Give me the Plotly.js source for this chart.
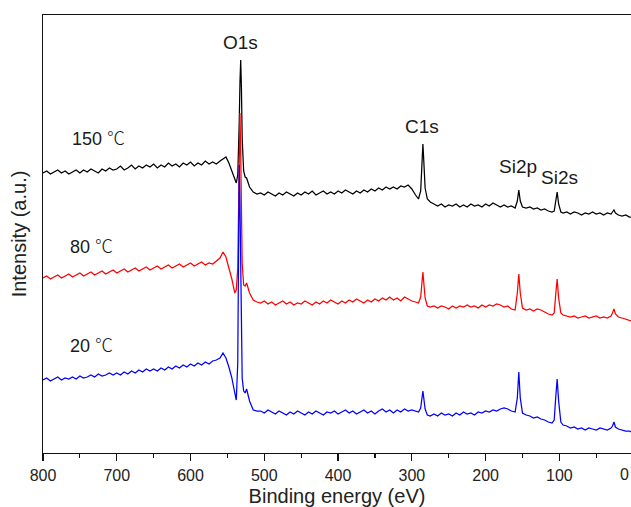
<!DOCTYPE html>
<html>
<head>
<meta charset="utf-8">
<script src="https://cdn.plot.ly/plotly-3.0.1.min.js"></script>
<style>html,body{margin:0;padding:0;background:#fff;}#chart{width:631px;height:507px;}</style>
</head>
<body>
<div id="chart"></div>
<script>
// Binding energy grid (eV)
var energy = [
800,795,790,785,780,775,770,765,760,755,750,745,740,735,730,725,720,715,710,705,
700,695,690,685,680,675,670,665,660,655,650,645,640,635,630,625,620,615,610,605,
600,595,590,585,580,575,570,565,
560,556,552,548,544,540,538,536,535,534,533,532,531,530,528,526,524,520,515,510,
505,500,495,490,485,480,475,470,465,460,455,450,445,440,435,430,425,420,415,410,
405,400,395,390,385,380,375,370,365,360,355,350,345,340,335,330,325,320,315,310,
305,300,
295,291,288,286,285,284,282,279,275,
270,265,260,255,250,245,240,235,230,225,220,215,210,205,200,195,190,185,180,175,
170,165,160,
157,155,153,150,
145,140,135,130,125,120,115,110,
107,105,103,101,98,95,
90,85,80,75,70,65,60,55,50,45,40,35,30,
28,26,24,20,15,10,5,3
];

// Intensity (a.u.), 150 C sample
var i150 = [
280,282,279,281,283,280,282,279,281,283,280,283,281,284,282,280,284,282,285,283,
284,287,283,285,288,284,287,285,288,286,289,285,288,286,290,287,289,286,290,288,
291,287,290,288,292,289,291,289,
292,294,296,290,282,274,270,278,300,330,370,393,365,315,282,276,275,266,261,259,
260,258,261,259,257,260,258,261,259,257,260,258,261,259,262,258,260,262,259,261,
259,262,260,263,261,259,262,260,263,261,264,262,265,263,266,264,266,264,267,266,
268,264,
258,254,262,295,309,295,265,254,251,
249,247,249,246,248,247,249,246,248,246,249,247,248,246,249,247,250,248,246,248,
246,247,245,
252,263,252,246,
245,246,244,245,243,244,242,241,
242,250,261,249,241,240,
241,239,241,240,238,240,239,241,239,240,238,240,239,
241,243,240,238,237,238,236,236
];

// Intensity (a.u.), 80 C sample
var i80 = [
175,177,174,176,178,175,177,179,176,178,180,177,179,181,178,180,182,179,181,183,
180,182,184,181,183,185,182,184,186,183,185,187,184,186,188,185,187,189,186,188,
190,187,189,191,188,190,189,192,
195,201,196,185,174,160,163,185,230,290,340,300,240,190,168,167,170,160,153,151,
150,152,149,151,148,150,152,149,151,148,150,149,152,150,148,151,149,152,150,153,
151,149,152,150,153,151,154,152,150,153,151,154,152,155,153,156,153,155,152,156,
154,152,
151,150,156,172,181,172,155,147,146,
147,145,147,146,144,147,145,147,146,148,146,147,145,148,146,148,147,149,148,146,
147,144,143,
160,179,160,145,
143,144,142,144,143,141,139,138,
140,158,174,155,140,138,
137,136,137,135,136,137,135,136,137,135,136,135,137,
140,144,139,136,135,134,133,132
];

// Intensity (a.u.), 20 C sample
var i20 = [
73,75,72,74,76,73,75,74,76,74,77,75,76,78,76,79,77,78,80,78,
80,78,81,79,82,80,83,81,84,82,84,82,85,83,86,84,87,85,88,86,
89,87,90,88,91,89,92,93,
95,100,95,86,75,60,53,90,200,288,250,180,110,75,62,60,64,52,43,42,
42,40,43,41,39,42,40,38,41,39,42,40,38,41,39,42,40,38,41,40,
42,39,41,43,40,42,39,41,43,40,42,39,42,44,41,43,40,43,41,44,
42,43,
42,41,45,56,62,56,44,38,37,
39,37,40,38,39,37,40,38,41,39,40,38,41,40,42,41,43,42,44,45,
44,42,41,
55,81,55,40,
38,37,35,36,34,33,31,30,
33,55,74,52,31,28,
27,25,26,24,25,23,25,24,23,25,24,23,25,
27,31,26,24,23,22,22,21
];

var xTicks = [800,700,600,500,400,300,200,100];
var seriesTemps = ['150','80','20'];
var tempUnit = '℃';
var seriesColors = ['#000000','#ff0000','#0000ff'];
var peakLabels = ['O1s','C1s','Si2p','Si2s'];

var FONT = 'Liberation Sans, Arial, Noto Sans CJK SC, sans-serif';
var CJK = 'Noto Sans CJK SC';

var traces = [i150, i80, i20].map(function(ys, k){
  return {x: energy, y: ys, type: 'scatter', mode: 'lines', name: seriesTemps[k] + ' ' + tempUnit,
    line: {color: seriesColors[k], width: 1.25}, hoverinfo: 'skip', showlegend: false};
});

function txt(t, x, y, size){
  return {text: t, x: x, y: y, xref: 'x', yref: 'y', showarrow: false,
    xanchor: 'center', yanchor: 'middle', font: {family: FONT, size: size, color: '#1a1a1a'}};
}
function tempLabel(k){
  return seriesTemps[k] + ' <span style="font-family:' + CJK + ';font-weight:300">' + tempUnit + '</span>';
}

var annotations = [
  txt(peakLabels[0], 532.9, 411, 19),
  txt(peakLabels[1], 286.2, 327, 19),
  txt(peakLabels[2], 156, 287, 19),
  txt(peakLabels[3], 99.2, 276, 19),
  txt(tempLabel(0), 725.4, 316, 18),
  txt(tempLabel(1), 733.6, 208, 18),
  txt(tempLabel(2), 733.6, 109, 18),
  {text: '0', xref: 'paper', yref: 'paper', x: 1, y: -0.0502, xanchor: 'right', yanchor: 'middle',
   xshift: 0, showarrow: false, font: {family: FONT, size: 16, color: '#222'}}
];

var layout = {
  width: 631, height: 507,
  margin: {l: 43, r: 0, t: 15, b: 54},
  paper_bgcolor: '#fff', plot_bgcolor: '#fff',
  font: {family: FONT, color: '#222'},
  xaxis: {
    range: [800, 2.9], tickvals: xTicks, ticktext: xTicks.map(String),
    ticks: 'outside', ticklen: 7, tickwidth: 1.3, tickcolor: '#111',
    showline: true, linecolor: '#111', linewidth: 1.3, mirror: true,
    showgrid: false, zeroline: false,
    minor: {ticks: 'outside', ticklen: 4, tickwidth: 1.2, tickcolor: '#111', tickvals: [750,650,550,450,350,250,150,50], showgrid: false},
    tickfont: {family: FONT, size: 16, color: '#222'},
    title: {text: 'Binding energy (eV)', font: {family: FONT, size: 20, color: '#222'}, standoff: 10},
    automargin: false
  },
  yaxis: {
    range: [0, 438], showticklabels: false, ticks: '',
    showline: true, linecolor: '#111', linewidth: 1.3,
    showgrid: false, zeroline: false,
    title: {text: 'Intensity (a.u.)', font: {family: FONT, size: 20, color: '#222'}, standoff: 9},
    automargin: false
  },
  annotations: annotations
};

Plotly.newPlot('chart', traces, layout, {displayModeBar: false, staticPlot: true});
</script>
</body>
</html>
